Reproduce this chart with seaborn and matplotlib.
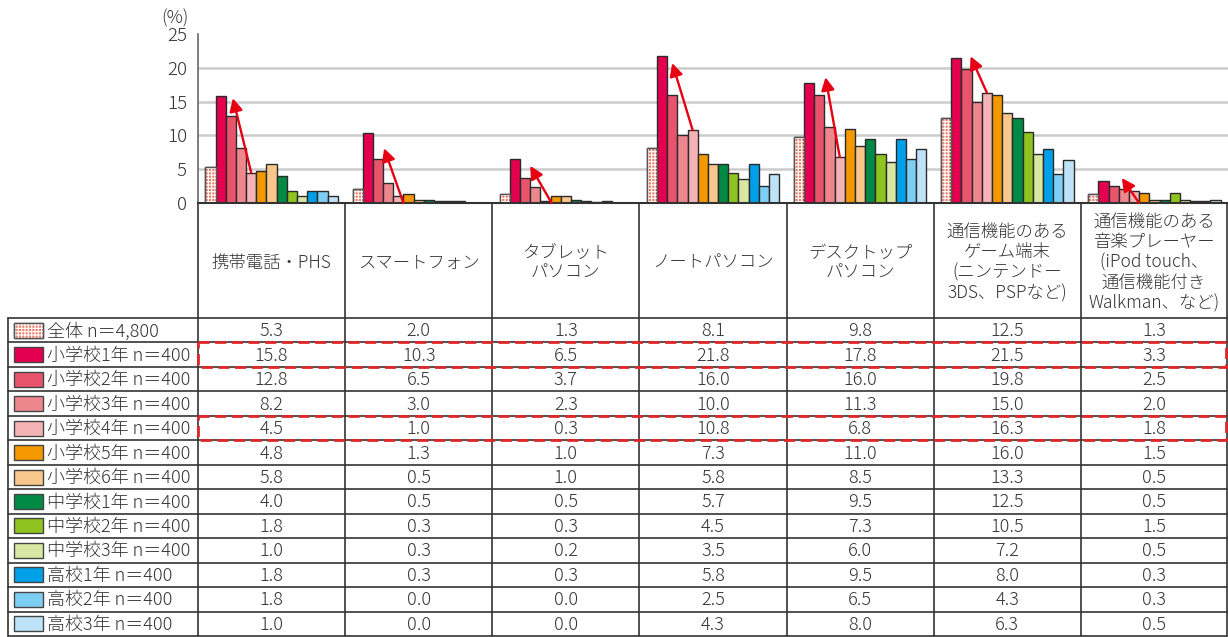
import numpy as np
import pandas as pd
import matplotlib
matplotlib.use("Agg")
import matplotlib.pyplot as plt
from matplotlib.patches import Rectangle
import seaborn as sns

# ---- data ---------------------------------------------------------------
devices = [
    "携帯電話・PHS",
    "スマートフォン",
    "タブレット\nパソコン",
    "ノートパソコン",
    "デスクトップ\nパソコン",
    "通信機能のある\nゲーム端末\n(ニンテンドー\n3DS、PSPなど)",
    "通信機能のある\n音楽プレーヤー\n(iPod touch、\n通信機能付き\nWalkman、など)",
]

groups = [
    "全体 n＝4,800",
    "小学校1年 n＝400",
    "小学校2年 n＝400",
    "小学校3年 n＝400",
    "小学校4年 n＝400",
    "小学校5年 n＝400",
    "小学校6年 n＝400",
    "中学校1年 n＝400",
    "中学校2年 n＝400",
    "中学校3年 n＝400",
    "高校1年 n＝400",
    "高校2年 n＝400",
    "高校3年 n＝400",
]

total = [5.3, 2.0, 1.3, 8.1, 9.8, 12.5, 1.3]
elem1 = [15.8, 10.3, 6.5, 21.8, 17.8, 21.5, 3.3]
elem2 = [12.8, 6.5, 3.7, 16.0, 16.0, 19.8, 2.5]
elem3 = [8.2, 3.0, 2.3, 10.0, 11.3, 15.0, 2.0]
elem4 = [4.5, 1.0, 0.3, 10.8, 6.8, 16.3, 1.8]
elem5 = [4.8, 1.3, 1.0, 7.3, 11.0, 16.0, 1.5]
elem6 = [5.8, 0.5, 1.0, 5.8, 8.5, 13.3, 0.5]
jhs1 = [4.0, 0.5, 0.5, 5.7, 9.5, 12.5, 0.5]
jhs2 = [1.8, 0.3, 0.3, 4.5, 7.3, 10.5, 1.5]
jhs3 = [1.0, 0.3, 0.2, 3.5, 6.0, 7.2, 0.5]
hs1 = [1.8, 0.3, 0.3, 5.8, 9.5, 8.0, 0.3]
hs2 = [1.8, 0.0, 0.0, 2.5, 6.5, 4.3, 0.3]
hs3 = [1.0, 0.0, 0.0, 4.3, 8.0, 6.3, 0.5]
series = [total, elem1, elem2, elem3, elem4, elem5, elem6,
          jhs1, jhs2, jhs3, hs1, hs2, hs3]

y_ticks = [0, 5, 10, 15, 20, 25]

# arrows: from the 4th-grade bar up toward the 1st-grade bar (slot index, value)
arrow_tail_slot = [4.0, 4.5, 4.6, 4.0, 4.0, 4.0, 4.5]
arrow_tail_val = [4.5, 0.0, 0.0, 10.8, 6.8, 16.3, 0.0]
arrow_head_slot = [2.2, 2.6, 2.5, 2.0, 2.6, 2.4, 2.8]
arrow_head_val = [15.5, 8.1, 5.5, 20.7, 18.6, 21.7, 3.7]

# rows drawn with a dashed red outline
highlight_rows = [1, 4]

colors = ["#f0806c", "#e4004f", "#e8546c", "#ee868e", "#f4b4b6", "#f39800",
          "#f9c78c", "#008a45", "#8fc31f", "#d8e7a2", "#00a0e9", "#7ecef4",
          "#bee3f8"]

# ---- styling -------------------------------------------------------------
sns.set_theme(style="white")
plt.rcParams["font.family"] = ["Noto Sans CJK JP", "DejaVu Sans"]
plt.rcParams["font.weight"] = "light"
plt.rcParams["hatch.linewidth"] = 0.8
TXT = "#333333"
LINE = "#333333"
RED = "#e60012"
HATCH = "+++++"

W, H = 1228, 637
AX_L, AX_R, AX_T, AX_B = 198, 1228, 34, 203
HEADER_B = 318
ROWS_B = 636
LABEL_L = 8
BAR_WIDTH = 0.9

fig = plt.figure(figsize=(W / 100, H / 100), dpi=100)
ax = fig.add_axes([AX_L / W, 1 - AX_B / H, (AX_R - AX_L) / W, (AX_B - AX_T) / H])

df = pd.DataFrame(
    [(d, g, v) for g, vals in zip(groups, series) for d, v in zip(devices, vals)],
    columns=["device", "group", "value"],
)

sns.barplot(data=df, x="device", y="value", hue="group", order=devices,
            hue_order=groups, palette=colors, width=BAR_WIDTH, gap=0,
            edgecolor="#2a2a2a", linewidth=1.0, saturation=1, legend=False,
            errorbar=None, ax=ax)

# white grid pattern on the overall bars
for bar in ax.containers[0]:
    ax.add_patch(Rectangle(bar.get_xy(), bar.get_width(), bar.get_height(),
                           facecolor="none", edgecolor="white", lw=0,
                           hatch=HATCH, zorder=bar.get_zorder() + 0.1))
    ax.add_patch(Rectangle(bar.get_xy(), bar.get_width(), bar.get_height(),
                           facecolor="none", edgecolor="#555555", lw=1.0,
                           zorder=bar.get_zorder() + 0.2))

ax.set_xlim(-0.5, len(devices) - 0.5)
ax.set_ylim(0, 25)
ax.set_yticks(y_ticks)
ax.set_yticklabels([str(t) for t in y_ticks], fontsize=13.5, color=TXT)
ax.tick_params(axis="y", direction="in", length=5, width=1, color="#666666", pad=8)
ax.set_xticks([])
ax.set_xlabel("")
ax.set_ylabel("")
for t in y_ticks[1:-1]:
    ax.axhline(t, color="#cccccc", lw=1.8, zorder=0)
for s in ["top", "right"]:
    ax.spines[s].set_visible(False)
ax.spines["left"].set_color("#666666")
ax.spines["left"].set_linewidth(1.2)
ax.spines["bottom"].set_color(LINE)
ax.spines["bottom"].set_linewidth(1.5)

slot_w = BAR_WIDTH / len(groups)
for g in range(len(devices)):
    x0 = g - BAR_WIDTH / 2
    xt = x0 + slot_w * (arrow_tail_slot[g] + 0.5)
    xh = x0 + slot_w * (arrow_head_slot[g] + 0.5)
    ax.annotate("", xy=(xh, arrow_head_val[g]), xytext=(xt, arrow_tail_val[g]),
                arrowprops=dict(arrowstyle="-|>,head_length=0.55,head_width=0.28",
                                color=RED, lw=1.7, mutation_scale=14,
                                shrinkA=0, shrinkB=0),
                zorder=10)

# ---- table below the bars -------------------------------------------------
tab = fig.add_axes([0, 0, 1, 1], zorder=-1)
tab.set_xlim(0, W)
tab.set_ylim(H, 0)
tab.axis("off")

tab.text(189, 18, "(%)", ha="right", va="center", fontsize=13, color=TXT)

col_w = (AX_R - AX_L) / len(devices)
col_x = [AX_L + i * col_w for i in range(len(devices) + 1)]
col_x[-1] = W - 1
row_h = (ROWS_B - HEADER_B) / len(groups)
row_y = [HEADER_B + i * row_h for i in range(len(groups) + 1)]

# vertical lines
for x in col_x:
    tab.plot([x, x], [AX_B, ROWS_B], color=LINE, lw=1.2)
tab.plot([LABEL_L, LABEL_L], [HEADER_B, ROWS_B], color=LINE, lw=1.2)
# horizontal lines
for y in row_y:
    tab.plot([LABEL_L, W - 1], [y, y], color=LINE, lw=1.2)

# header texts
for i, name in enumerate(devices):
    tab.text((col_x[i] + col_x[i + 1]) / 2, (AX_B + HEADER_B) / 2 + 2, name,
             ha="center", va="center", fontsize=12.5, color=TXT, linespacing=1.15)

# row labels with colour swatches, and values
for r, (name, vals) in enumerate(zip(groups, series)):
    yc = (row_y[r] + row_y[r + 1]) / 2
    sw = Rectangle((14, yc - 7.5), 29, 15, facecolor=colors[r],
                   edgecolor="#444444", lw=1.0)
    tab.add_patch(sw)
    if r == 0:
        tab.add_patch(Rectangle((14, yc - 7.5), 29, 15, facecolor="none",
                                edgecolor="white", lw=0, hatch=HATCH))
        tab.add_patch(Rectangle((14, yc - 7.5), 29, 15, facecolor="none",
                                edgecolor="#555555", lw=1.0))
    tab.text(47, yc + 1, name, ha="left", va="center", fontsize=13, color=TXT)
    for i, v in enumerate(vals):
        tab.text((col_x[i] + col_x[i + 1]) / 2, yc + 1, f"{v:.1f}",
                 ha="center", va="center", fontsize=13, color=TXT)

# dashed highlight boxes
for r in highlight_rows:
    tab.add_patch(Rectangle((AX_L, row_y[r]), W - 2 - AX_L, row_h,
                            facecolor="none", edgecolor="#e0282a", lw=2,
                            linestyle=(0, (4, 2)), zorder=5))

fig.savefig("out.png", dpi=100)
